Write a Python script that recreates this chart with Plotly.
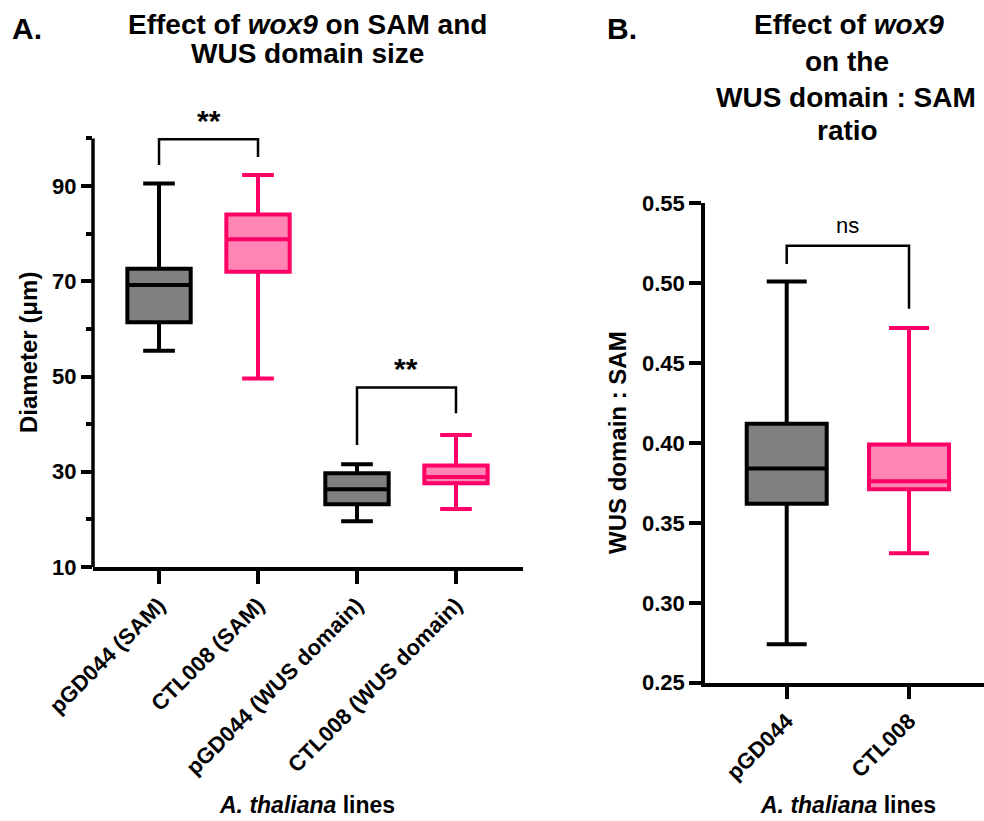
import plotly.graph_objects as go

# ---- data -------------------------------------------------------------
# Panel A: diameters (um) of SAM and WUS domain
groups_a = ["pGD044 (SAM)", "CTL008 (SAM)", "pGD044 (WUS domain)", "CTL008 (WUS domain)"]
a_min = [55.4, 49.6, 19.6, 22.2]
a_q1 = [61.4, 72.0, 23.2, 27.6]
a_med = [69.2, 78.8, 26.3, 28.9]
a_q3 = [72.6, 84.0, 29.7, 31.3]
a_max = [90.5, 92.3, 31.6, 37.7]

# Panel B: WUS domain : SAM ratio
groups_b = ["pGD044", "CTL008"]
b_min = [0.274, 0.331]
b_q1 = [0.362, 0.371]
b_med = [0.384, 0.376]
b_q3 = [0.412, 0.399]
b_max = [0.501, 0.472]

# significance brackets: (panel, left x, right x, top, left foot, right foot, label)
brackets = [
    ("A", 0, 1, 99.8, 94.4, 96.1, "**"),
    ("A", 2, 3, 47.7, 35.6, 42.3, "**"),
    ("B", 0, 1, 0.5235, 0.512, 0.484, "ns"),
]

a_ticks = [10, 30, 50, 70, 90]
a_minor = [20, 40, 60, 80, 100]
b_ticks = [0.25, 0.30, 0.35, 0.40, 0.45, 0.50, 0.55]

# ---- styling ----------------------------------------------------------
W, H = 984, 821
FONT = "Liberation Sans, Arial, Helvetica, sans-serif"
GREY_FILL, GREY_LINE = "#808080", "#000000"
PINK_FILL, PINK_LINE = "#FF85B4", "#FF0066"
AX_W = 3.5


def px_x(p):
    return p / W


def px_y(p):
    return 1 - p / H


fig = go.Figure()

styles_a = [(GREY_FILL, GREY_LINE), (PINK_FILL, PINK_LINE)] * 2
for i, name in enumerate(groups_a):
    fill, line = styles_a[i]
    fig.add_trace(go.Box(
        x=[i], q1=[a_q1[i]], median=[a_med[i]], q3=[a_q3[i]],
        lowerfence=[a_min[i]], upperfence=[a_max[i]],
        name=name, width=0.64, whiskerwidth=0.5,
        fillcolor=fill, line=dict(color=line, width=4),
        boxpoints=False, xaxis="x", yaxis="y", showlegend=False,
    ))

styles_b = [(GREY_FILL, GREY_LINE), (PINK_FILL, PINK_LINE)]
for i, name in enumerate(groups_b):
    fill, line = styles_b[i]
    fig.add_trace(go.Box(
        x=[i], q1=[b_q1[i]], median=[b_med[i]], q3=[b_q3[i]],
        lowerfence=[b_min[i]], upperfence=[b_max[i]],
        name=name, width=0.654, whiskerwidth=0.5,
        fillcolor=fill, line=dict(color=line, width=4),
        boxpoints=False, xaxis="x2", yaxis="y2", showlegend=False,
    ))

tick_font = dict(family=FONT, size=22, color="black", weight="bold")

axis_common = dict(
    ticks="outside", tickwidth=AX_W, tickcolor="black", showgrid=False,
    zeroline=False, tickfont=tick_font, fixedrange=True, automargin=False,
)

fig.update_layout(
    width=W, height=H, margin=dict(l=0, r=0, t=0, b=0, autoexpand=False),
    paper_bgcolor="white", plot_bgcolor="white",
    font=dict(family=FONT, color="black"),
    xaxis=dict(
        domain=[px_x(93), px_x(523)], range=[-0.667, 3.677],
        tickvals=list(range(len(groups_a))), ticktext=groups_a, tickangle=-45,
        ticklen=13, showline=True, linewidth=AX_W, linecolor="black",
        anchor="y", **axis_common,
    ),
    yaxis=dict(
        domain=[px_y(567), px_y(567 - 94 * 4.7625)], range=[10, 104],
        tickvals=a_ticks, ticklen=11, showline=False, anchor="x",
        minor=dict(tickvals=a_minor, ticklen=6, tickwidth=AX_W,
                   tickcolor="black", ticks="outside", showgrid=False),
        **axis_common,
    ),
    xaxis2=dict(
        domain=[px_x(705), 1.0], range=[-0.668, 1.613],
        tickvals=list(range(len(groups_b))), ticktext=groups_b, tickangle=-45,
        ticklen=13, showline=True, linewidth=AX_W, linecolor="black",
        anchor="y2", **axis_common,
    ),
    yaxis2=dict(
        domain=[px_y(682.7), px_y(203.3)], range=[0.25, 0.55],
        tickvals=b_ticks, tickformat=".2f", ticklen=12, showline=True,
        linewidth=AX_W, linecolor="black", anchor="x2", **axis_common,
    ),
)

# y spine of panel A stops at 100 (range leaves headroom for the bracket)
fig.add_shape(type="line", xref="x domain", yref="y", x0=0, x1=0, y0=10, y1=100,
              line=dict(color="black", width=AX_W))

# significance brackets
for panel, xl, xr, top, fl, fr, label in brackets:
    xr_ref, yr_ref = ("x", "y") if panel == "A" else ("x2", "y2")
    fig.add_shape(
        type="path", xref=xr_ref, yref=yr_ref,
        path=f"M {xl},{fl} L {xl},{top} L {xr},{top} L {xr},{fr}",
        line=dict(color="black", width=2.5),
    )
    is_star = label.startswith("*")
    fig.add_annotation(
        x=(xl + xr) / 2, y=top, xref=xr_ref, yref=yr_ref,
        text=f"<b>{label}</b>" if is_star else label,
        showarrow=False, yanchor="bottom", yshift=0 if is_star else 6,
        font=dict(family=FONT, size=30 if is_star else 22, color="black"),
    )

# panel titles, letters and axis titles: (text, x px, y px, size, angle, y anchor)
texts = [
    ("<b>A.</b>", 27, 29, 30, 0, "middle"),
    ("<b>Effect of <i>wox9</i> on SAM and</b>", 307.5, 25, 28, 0, "middle"),
    ("<b>WUS domain size</b>", 307.5, 54, 28, 0, "middle"),
    ("<b>B.</b>", 622, 29, 30, 0, "middle"),
    ("<b>Effect of <i>wox9</i></b>", 849, 25, 28, 0, "middle"),
    ("<b>on the</b>", 847, 62, 28, 0, "middle"),
    ("<b>WUS domain : SAM</b>", 846, 98, 28, 0, "middle"),
    ("<b>ratio</b>", 847, 131, 28, 0, "middle"),
    ("<b>Diameter (μm)</b>", 28, 353, 24, -90, "middle"),
    ("<b>WUS domain : SAM</b>", 617, 443, 24, -90, "middle"),
    ("<b><i>A. thaliana</i> lines</b>", 307, 820, 23, 0, "bottom"),
    ("<b><i>A. thaliana</i> lines</b>", 847.5, 820, 23, 0, "bottom"),
]
for txt, x, y, size, ang, ya in texts:
    fig.add_annotation(
        x=px_x(x), y=px_y(y), xref="paper", yref="paper", text=txt,
        showarrow=False, xanchor="center", yanchor=ya, textangle=ang,
        font=dict(family=FONT, size=size, color="black"),
    )

fig.write_html("out.html")
